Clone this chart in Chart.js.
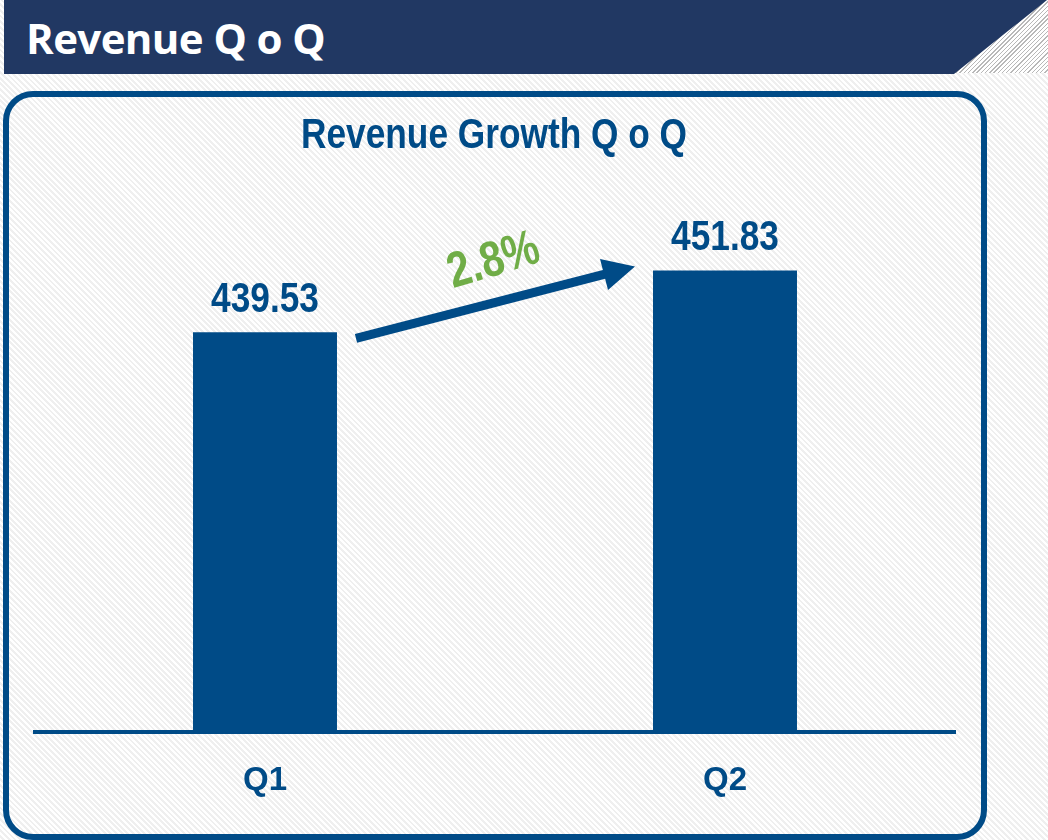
<!DOCTYPE html>
<html>
<head>
<meta charset="utf-8">
<title>Revenue Q o Q</title>
<script src="https://cdn.jsdelivr.net/npm/chart.js@4.4.1/dist/chart.umd.min.js"></script>
<style>
  html, body {
    margin: 0;
    padding: 0;
    width: 1048px;
    height: 840px;
    overflow: hidden;
    background: repeating-linear-gradient(45deg, #ffffff 0 2px, #efefef 2px 4px);
    position: relative;
  }
  .hatch {
    position: absolute;
    left: 900px; top: 0;
    width: 148px; height: 73px;
    background: repeating-linear-gradient(-45deg, #ffffff 0 2px, #b8b8b8 2px 3px);
    clip-path: polygon(100% 0, 100% 100%, 0 100%);
  }
  .header {
    position: absolute;
    left: 4px; top: 0;
    width: 1044px; height: 74px;
    background: #213863;
    clip-path: polygon(0 0, 1043px 0, 950px 74px, 0 74px);
  }
  .header h1 {
    margin: 0;
    position: absolute;
    left: 22px; top: 9px;
    color: #ffffff;
    font: 700 42px "Open Sans", "Liberation Sans", sans-serif;
    letter-spacing: -0.6px;
  }
  .box {
    position: absolute;
    left: 3px; top: 91px;
    width: 972px; height: 737px;
    border: 6px solid #004b87;
    border-radius: 30px;
  }
  #chart-wrap {
    position: absolute;
    left: 9px; top: 97px;
    width: 972px; height: 736px;
  }
</style>
</head>
<body>
<div class="hatch"></div>
<div class="header"><h1>Revenue Q o Q</h1></div>
<div class="box"></div>
<div id="chart-wrap"><canvas id="revenueChart"></canvas></div>

<script>
// data
const quarters = ["Q1", "Q2"];
const revenue = [439.53, 451.83];
const axisMin = 360;
const axisMax = 470;
const chartTitle = "Revenue Growth Q o Q";

const BLUE = "#004b87";
const GREEN = "#70ad47";
const FONT = "'Liberation Sans', Arial, sans-serif";
const SQUEEZE = 0.82; // slide uses a narrow bold face

// draw text condensed horizontally around x
function narrowText(ctx, text, x, y) {
  ctx.save();
  ctx.translate(x, y);
  ctx.scale(SQUEEZE, 1);
  ctx.fillText(text, 0, 0);
  ctx.restore();
}

// chart title, drawn narrow in the reserved top padding
const narrowTitle = {
  id: "narrowTitle",
  afterDraw(chart) {
    const ctx = chart.ctx;
    ctx.save();
    ctx.fillStyle = BLUE;
    ctx.font = "bold 43px " + FONT;
    ctx.textAlign = "center";
    ctx.textBaseline = "alphabetic";
    narrowText(ctx, chartTitle, chart.width / 2 - 1, 51);
    ctx.restore();
  }
};

// value labels above the bars
const valueLabels = {
  id: "valueLabels",
  afterDatasetsDraw(chart) {
    const ctx = chart.ctx;
    const meta = chart.getDatasetMeta(0);
    ctx.save();
    ctx.fillStyle = BLUE;
    ctx.font = "bold 43px " + FONT;
    ctx.textAlign = "center";
    ctx.textBaseline = "alphabetic";
    meta.data.forEach((bar, i) => {
      narrowText(ctx, revenue[i].toFixed(2), bar.x, bar.y - 20);
    });
    ctx.restore();
  }
};

// growth arrow between the two bars
const growthArrow = {
  id: "growthArrow",
  afterDatasetsDraw(chart) {
    const ctx = chart.ctx;
    const bars = chart.getDatasetMeta(0).data;
    const a = bars[0], b = bars[1];
    const x1 = a.x + a.width / 2 + 19, y1 = a.y + 6;
    const x2 = b.x - b.width / 2 - 18, y2 = b.y - 4;
    const ang = Math.atan2(y2 - y1, x2 - x1);
    const headLen = 32, headHalf = 16;

    ctx.save();
    ctx.translate(x1, y1);
    ctx.rotate(ang);
    const len = Math.hypot(x2 - x1, y2 - y1);
    ctx.fillStyle = BLUE;
    ctx.fillRect(0, -4.5, len - headLen + 2, 9);
    ctx.beginPath();
    ctx.moveTo(len, 0);
    ctx.lineTo(len - headLen, -headHalf);
    ctx.lineTo(len - headLen, headHalf);
    ctx.closePath();
    ctx.fill();

    const growth = (revenue[1] / revenue[0] - 1) * 100;
    ctx.fillStyle = GREEN;
    ctx.font = "bold 50px " + FONT;
    ctx.textAlign = "center";
    ctx.textBaseline = "alphabetic";
    ctx.rotate(-0.04);
    narrowText(ctx, growth.toFixed(1) + "%", len / 2 + 10, -20);
    ctx.restore();
  }
};

new Chart(document.getElementById("revenueChart"), {
  type: "bar",
  data: {
    labels: quarters,
    datasets: [{
      data: revenue,
      backgroundColor: BLUE,
      categoryPercentage: 1,
      barPercentage: 0.313
    }]
  },
  options: {
    responsive: true,
    maintainAspectRatio: false,
    animation: false,
    layout: {
      padding: { left: 26, right: 26, top: 82, bottom: 11 }
    },
    plugins: {
      legend: { display: false },
      tooltip: { enabled: false },
      title: { display: false }
    },
    scales: {
      x: {
        grid: { display: false },
        border: { display: true, color: BLUE, width: 4 },
        ticks: {
          color: BLUE,
          padding: 21,
          font: { family: FONT, size: 33, weight: "bold" }
        }
      },
      y: {
        display: false,
        min: axisMin,
        max: axisMax
      }
    }
  },
  plugins: [valueLabels, growthArrow, narrowTitle]
});
</script>
</body>
</html>
